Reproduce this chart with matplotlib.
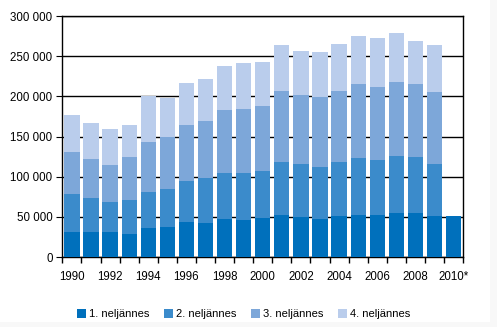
import numpy as np
import matplotlib
matplotlib.use('Agg')
import matplotlib.pyplot as plt
from matplotlib.ticker import FuncFormatter
from matplotlib.patches import Rectangle

plt.rcParams['font.family'] = ['Liberation Sans', 'DejaVu Sans']

years = list(range(1990, 2011))
# quarter values
q1 = [31100, 31100, 31100, 28600, 36100, 37300, 43500, 42300, 47300, 46000,
      48500, 52200, 49800, 47300, 51000, 52200, 52200, 54700, 54700, 51000, 51000]
q2 = [47300, 42300, 37300, 42300, 44700, 47300, 51000, 56000, 57200, 58500,
      58500, 66000, 65900, 64600, 67200, 70900, 68400, 70900, 69700, 64700, 0]
q3 = [52200, 48500, 46000, 53500, 62200, 64700, 69700, 70900, 78300, 79600,
      80800, 88300, 85800, 87100, 88300, 92100, 90800, 92100, 90800, 89500, 0]
q4 = [46000, 44800, 44800, 39800, 57300, 48500, 52200, 52200, 54800, 57200,
      54700, 57200, 54700, 56000, 58400, 59700, 61000, 60900, 53500, 58500, 0]
labels = ['1. neljännes', '2. neljännes', '3. neljännes', '4. neljännes']
colors = ['#0070BC', '#3B8BCB', '#7DA7D9', '#BACDEC']

fig = plt.figure(figsize=(4.97, 3.27), dpi=100, facecolor='#f8f8f8')
fig.patches.append(Rectangle((0, 0.015), 0.986, 0.985, transform=fig.transFigure,
                             facecolor='white', edgecolor='none', zorder=-10))
ax = fig.add_axes([0.1254, 0.214, 0.8066, 0.737])

x = np.arange(len(years))
bottom = np.zeros(len(years))
for vals, lab, col in zip([q1, q2, q3, q4], labels, colors):
    ax.bar(x, vals, width=0.8, bottom=bottom, color=col, label=lab, zorder=3)
    bottom += np.array(vals)

ax.set_ylim(0, 300000)
ax.set_xlim(-0.5, len(years) - 0.5)
ax.set_yticks(range(0, 300001, 50000))
ax.yaxis.set_major_formatter(FuncFormatter(lambda v, p: f'{int(v):,}'.replace(',', ' ')))
ax.grid(axis='y', color='black', linewidth=1, zorder=0)

ax.set_xticks(np.arange(-0.5, len(years), 1))
ax.set_xticklabels([])
ax.set_xticks(x[::2], minor=True)
ax.set_xticklabels([str(y) if y != 2010 else '2010*' for y in years[::2]], minor=True)
ax.tick_params(axis='x', which='minor', length=0, pad=10, labelsize=8.3)
ax.tick_params(axis='x', which='major', length=4, direction='out', width=1)
ax.tick_params(axis='y', length=4, direction='out', labelsize=8.3, pad=3)

for s in ['left', 'right', 'bottom', 'top']:
    ax.spines[s].set_color('black')
    ax.spines[s].set_linewidth(1)

ax.legend(loc='upper center', bbox_to_anchor=(0.452, -0.175), ncol=4, frameon=False,
          fontsize=8, handlelength=0.8, handleheight=0.8, handletextpad=0.3,
          columnspacing=1.3)

fig.savefig('out.png', dpi=100, facecolor=fig.get_facecolor())
